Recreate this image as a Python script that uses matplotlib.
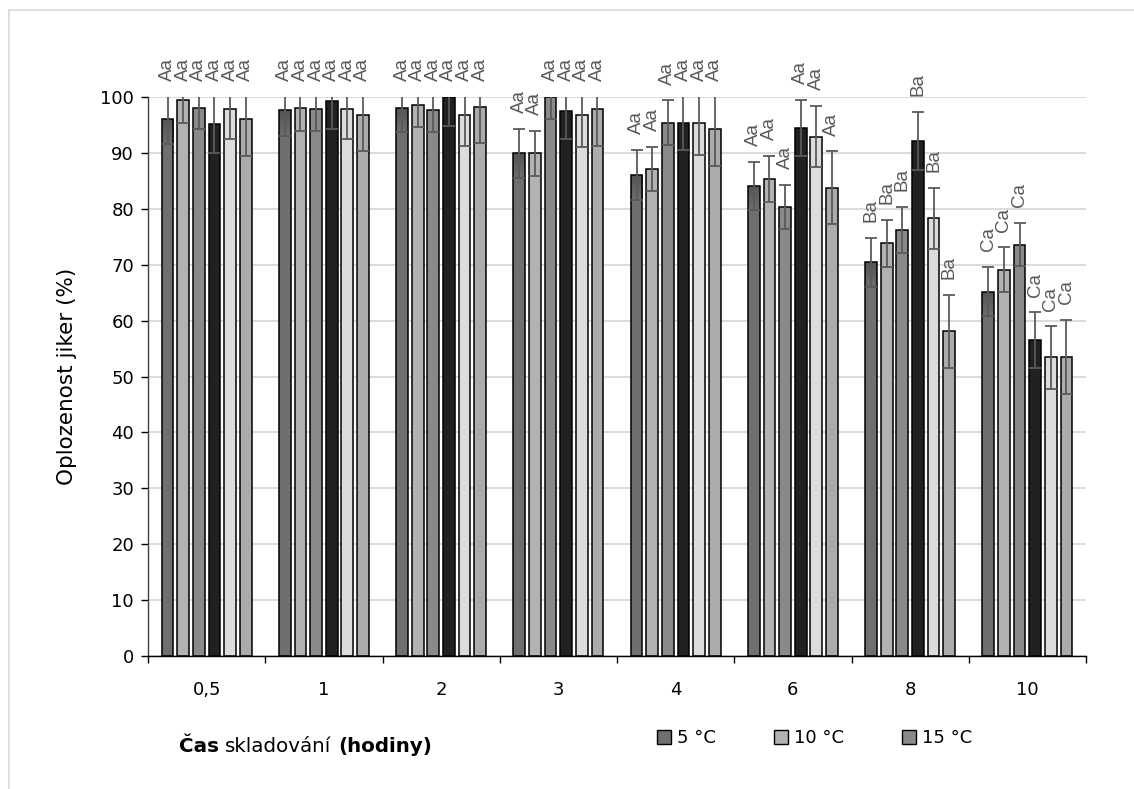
import numpy as np
import matplotlib
matplotlib.use("Agg")
import matplotlib.pyplot as plt
from matplotlib.patches import Patch
from matplotlib.lines import Line2D
from matplotlib.colors import LinearSegmentedColormap

# storage time groups (hours)
categories = ["0,5", "1", "2", "3", "4", "6", "8", "10"]

# fertilisation rate (%) per series
series_1 = [96.1, 97.6, 98.0, 89.9, 86.0, 84.1, 70.4, 65.2]
series_2 = [99.5, 98.0, 98.6, 89.9, 87.1, 85.4, 73.8, 69.1]
series_3 = [98.1, 97.9, 97.7, 100.0, 95.4, 80.3, 76.2, 73.6]
series_4 = [95.1, 99.3, 100.0, 97.5, 95.4, 94.5, 92.1, 56.5]
series_5 = [97.8, 97.9, 96.8, 96.7, 95.3, 92.9, 78.3, 53.4]
series_6 = [96.1, 96.8, 98.3, 97.8, 94.3, 83.8, 58.1, 53.5]

# standard deviations
err_1 = [4.5, 4.5, 4.3, 4.4, 4.5, 4.3, 4.4, 4.4]
err_2 = [4.2, 4.0, 4.0, 4.0, 4.0, 4.1, 4.2, 4.0]
err_3 = [3.9, 4.0, 4.0, 3.9, 4.0, 4.0, 4.1, 3.9]
err_4 = [5.1, 5.0, 5.1, 5.1, 4.9, 5.0, 5.2, 5.0]
err_5 = [5.3, 5.5, 5.5, 5.6, 5.6, 5.5, 5.5, 5.6]
err_6 = [6.6, 6.5, 6.5, 6.6, 6.6, 6.5, 6.5, 6.6]

# significance letters per storage time
letters = ["Aa", "Aa", "Aa", "Aa", "Aa", "Aa", "Ba", "Ca"]

legend_labels = ["5 °C", "10 °C", "15 °C"]

values = [series_1, series_2, series_3, series_4, series_5, series_6]
errors = [err_1, err_2, err_3, err_4, err_5, err_6]
colors = ["#6f6f6f", "#b2b2b2", "#8a8a8a", "#212121", "#dcdcdc", "#ababab"]

FONT = "DejaVu Sans"
LABEL_FONT = "Liberation Sans"

W, H = 1134, 789
fig = plt.figure(figsize=(W / 100, H / 100), dpi=100)
ax = fig.add_axes([148 / W, 1 - 656 / H, 938 / W, 559 / H])

x = np.arange(len(categories))
n = len(values)
pitch = 0.1333
width = 0.1

ax.set_xlim(-0.5, len(categories) - 0.5)
ax.set_ylim(0, 100)

# shaded top for the first series
shade = LinearSegmentedColormap.from_list("shade", ["#6f6f6f", "#535353"])
shade_depth = 4.5

for i, (vals, errs, col) in enumerate(zip(values, errors, colors)):
    pos = x + (i - (n - 1) / 2) * pitch
    bars = ax.bar(pos, vals, width=width, color=col, edgecolor="none",
                  zorder=2)
    if i == 0:
        grad = np.linspace(0, 1, 64).reshape(-1, 1)
        for b in bars:
            x0, top = b.get_x(), b.get_height()
            img = ax.imshow(grad, cmap=shade, aspect="auto", origin="lower",
                            extent=[x0, x0 + b.get_width(),
                                    top - shade_depth, top],
                            interpolation="bilinear", zorder=2.05)
            img.set_clip_path(b)
    ax.bar(pos, vals, width=width, color="none", edgecolor="black",
           linewidth=1.1, zorder=2.1)
    ax.errorbar(pos, vals, yerr=errs, fmt="none", ecolor="#5a5a5a",
                elinewidth=1.3, capsize=4.5, capthick=1.3, zorder=3)
    for p, v, e, lab in zip(pos, vals, errs, letters):
        y = min(v + e + 2.8, 102.8)
        ax.text(p, y, lab, rotation=90, ha="center", va="bottom",
                fontsize=13.5, color="#595959", family=LABEL_FONT,
                clip_on=False, zorder=4)

ax.set_xlim(-0.5, len(categories) - 0.5)
ax.set_ylim(0, 100)
ax.set_yticks(np.arange(0, 101, 10))
ax.yaxis.grid(True, color="#d9d9d9", linewidth=1.3, zorder=0)
ax.set_axisbelow(True)

ax.set_xticks(x)
ax.set_xticklabels(categories)
ax.set_xticks(np.arange(-0.5, len(categories)), minor=True)
ax.tick_params(axis="x", which="major", length=0, pad=18)
ax.tick_params(axis="x", which="minor", length=5, width=1, color="black",
               direction="out")
ax.tick_params(axis="y", length=5, width=1, color="black", pad=5)
for lbl in ax.get_xticklabels() + ax.get_yticklabels():
    lbl.set_fontfamily(FONT)
    lbl.set_fontsize(13)
    lbl.set_color("black")

for side in ("top", "right"):
    ax.spines[side].set_visible(False)
ax.spines["left"].set_color("#404040")
ax.spines["bottom"].set_color("black")
ax.spines["left"].set_linewidth(1)
ax.spines["bottom"].set_linewidth(1)

ax.set_ylabel("Oplozenost jiker (%)", family=FONT, fontsize=15.5,
              va="center")
ax.yaxis.set_label_coords((67 - 148) / 938, 0.5)

# x-axis title with bold parts
renderer = fig.canvas.get_renderer()
parts = [("Čas", "bold"), (" skladování ", "normal"), ("(hodiny)", "bold")]
TITLE_SIZE = 14.3
tx = 179
ty = 1 - 752 / H


def text_width(s, weight):
    t = fig.text(0, 0, s, family=FONT, fontsize=TITLE_SIZE, weight=weight)
    w = t.get_window_extent(renderer).width
    t.remove()
    return w


for s, weight in parts:
    core = s.strip()
    lead = len(s) - len(s.lstrip())
    trail = len(s) - len(s.rstrip())
    space_w = text_width("a a", weight) - text_width("aa", weight)
    tx += lead * space_w
    t = fig.text(tx / W, ty, core, family=FONT, fontsize=TITLE_SIZE,
                 weight=weight, va="baseline", ha="left")
    tx += t.get_window_extent(renderer).width + trail * space_w

handles = [Patch(facecolor=colors[i], edgecolor="black", linewidth=1.0)
           for i in range(3)]
fig.legend(handles, legend_labels, loc="center left",
           bbox_to_anchor=(657 / W, 1 - 738 / H), ncol=3, frameon=False,
           prop={"family": FONT, "size": 13},
           handlelength=0.78, handleheight=0.78, handletextpad=0.33,
           columnspacing=3.2, borderaxespad=0, borderpad=0)

# chart-area border
fig.add_artist(Line2D([9 / W, 1], [1 - 10 / H, 1 - 10 / H], color="#d9d9d9",
                      linewidth=1.2, transform=fig.transFigure))
fig.add_artist(Line2D([9 / W, 9 / W], [0, 1 - 10 / H], color="#d9d9d9",
                      linewidth=1.2, transform=fig.transFigure))

fig.savefig("out.png", dpi=100, facecolor="white")
